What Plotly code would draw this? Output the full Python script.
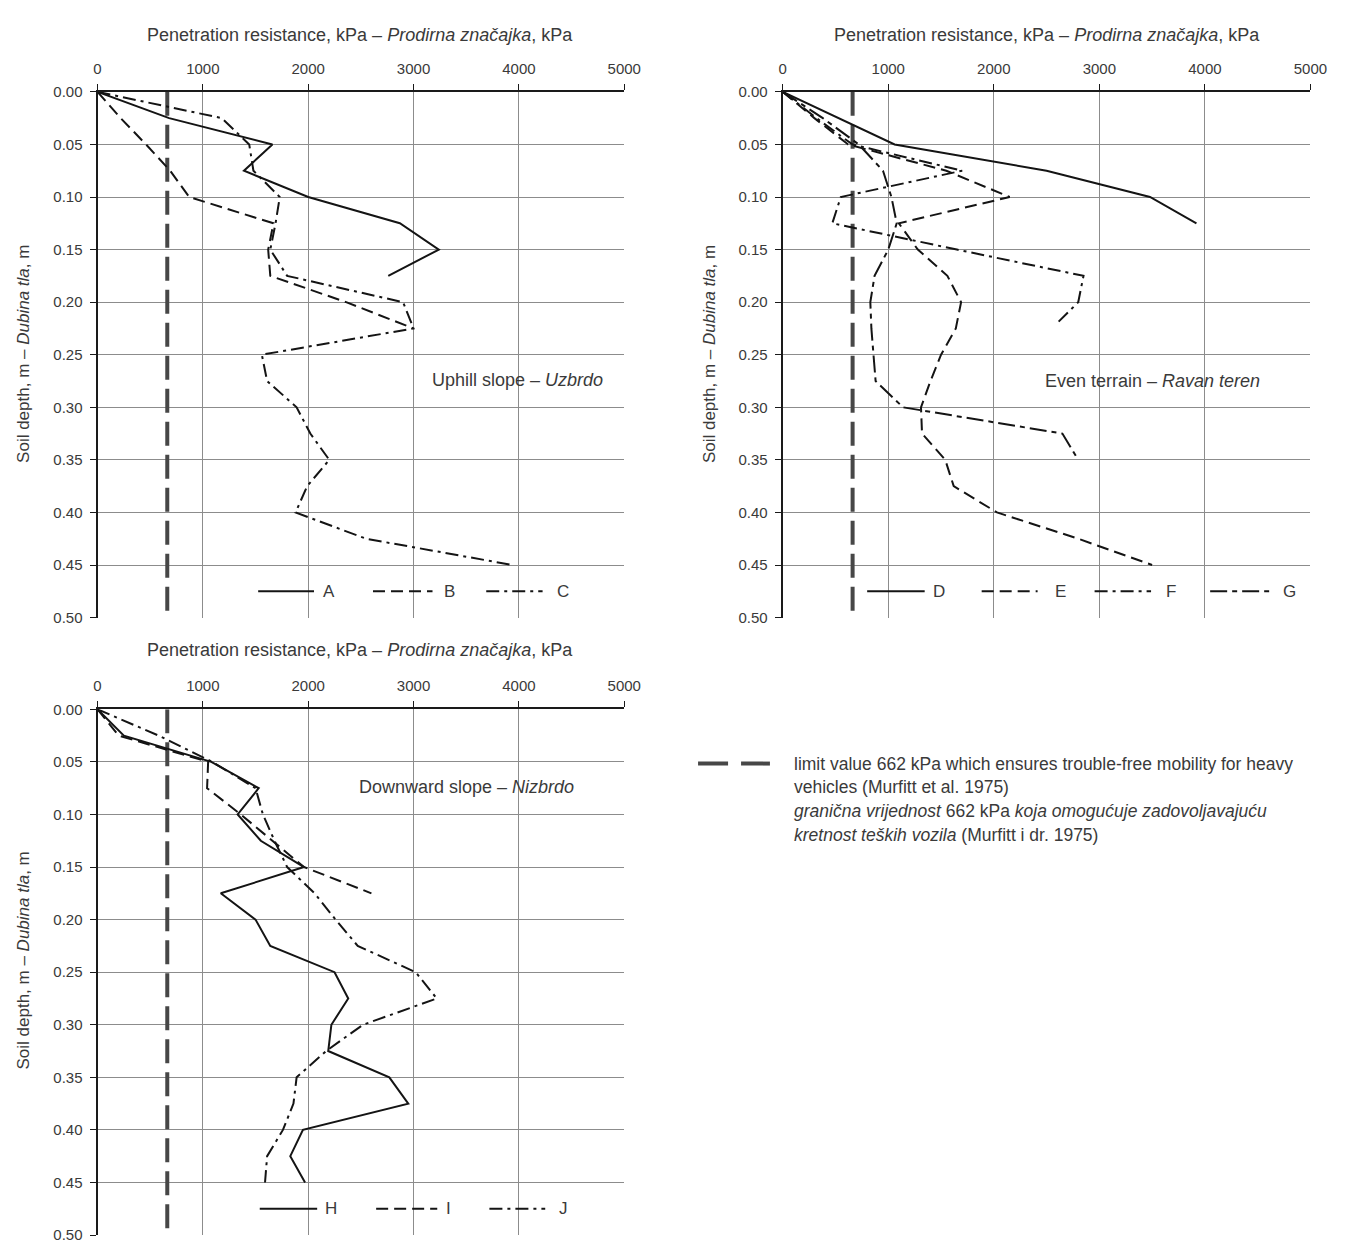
import plotly.graph_objects as go

# ---------------------------------------------------------------------------
# Penetration resistance (kPa) versus soil depth (m)
# ---------------------------------------------------------------------------
LIMIT_KPA = 662  # Murfitt et al. (1975) limit value

# Uphill slope – Uzbrdo
DEPTH_A = [0, 0.025, 0.05, 0.075, 0.10, 0.125, 0.15, 0.175]
KPA_A = [0, 680, 1660, 1390, 2000, 2870, 3240, 2760]

DEPTH_B = [0, 0.025, 0.05, 0.075, 0.10, 0.125, 0.15, 0.175, 0.20, 0.225]
KPA_B = [0, 220, 460, 690, 870, 1670, 1620, 1640, 2360, 3000]

DEPTH_C = [0, 0.025, 0.05, 0.075, 0.10, 0.125, 0.15, 0.175, 0.20, 0.225,
           0.25, 0.275, 0.30, 0.325, 0.35, 0.375, 0.40, 0.425, 0.45]
KPA_C = [0, 1180, 1440, 1480, 1730, 1690, 1640, 1800, 2900, 3000,
         1560, 1610, 1890, 2020, 2200, 1990, 1880, 2550, 3940]

# Even terrain – Ravan teren
DEPTH_D = [0, 0.025, 0.05, 0.075, 0.10, 0.125]
KPA_D = [0, 530, 1060, 2500, 3480, 3920]

DEPTH_E = [0, 0.025, 0.05, 0.075, 0.10, 0.125, 0.15, 0.175, 0.20, 0.225,
           0.25, 0.275, 0.30, 0.325, 0.35, 0.375, 0.40, 0.425, 0.45]
KPA_E = [0, 300, 620, 1550, 2150, 1100, 1280, 1560, 1690, 1640,
         1500, 1400, 1310, 1320, 1540, 1620, 2030, 2800, 3500]

DEPTH_F = [0, 0.025, 0.05, 0.075, 0.10, 0.125, 0.15, 0.175, 0.20, 0.22]
KPA_F = [0, 320, 660, 1700, 550, 470, 1650, 2850, 2800, 2600]

DEPTH_G = [0, 0.025, 0.05, 0.075, 0.10, 0.125, 0.15, 0.175, 0.20, 0.225,
           0.25, 0.275, 0.30, 0.325, 0.35]
KPA_G = [0, 380, 720, 950, 1030, 1080, 1000, 870, 830, 840,
         860, 880, 1140, 2650, 2800]

# Downward slope – Nizbrdo
DEPTH_H = [0, 0.025, 0.05, 0.075, 0.10, 0.125, 0.15, 0.175, 0.20, 0.225,
           0.25, 0.275, 0.30, 0.325, 0.35, 0.375, 0.40, 0.425, 0.45]
KPA_H = [0, 250, 1080, 1530, 1330, 1550, 1960, 1170, 1500, 1640,
         2250, 2380, 2220, 2190, 2770, 2950, 1950, 1830, 1970]

DEPTH_I = [0, 0.025, 0.05, 0.075, 0.10, 0.125, 0.15, 0.175]
KPA_I = [0, 200, 1050, 1040, 1360, 1660, 1960, 2600]

DEPTH_J = [0, 0.025, 0.05, 0.075, 0.10, 0.125, 0.15, 0.175, 0.20, 0.225,
           0.25, 0.275, 0.30, 0.325, 0.35, 0.375, 0.40, 0.425, 0.45]
KPA_J = [0, 580, 1090, 1500, 1570, 1680, 1800, 2060, 2260, 2470,
         3020, 3220, 2520, 2170, 1890, 1860, 1760, 1610, 1590]

X_TICKS = [0, 1000, 2000, 3000, 4000, 5000]
Y_TICKS = [0, 0.05, 0.10, 0.15, 0.20, 0.25, 0.30, 0.35, 0.40, 0.45, 0.50]

X_TITLE = "Penetration resistance, kPa – <i>Prodirna značajka</i>, kPa"
Y_TITLE = "Soil depth, m – <i>Dubina tla</i>, m"

# ---------------------------------------------------------------------------
W, H = 1354, 1246
FONT = "Liberation Sans Narrow, Arial Narrow, Liberation Sans, Arial, sans-serif"
TXT = "#3a3a3a"
INK = "#141414"

SOLID = "solid"
DASH = "12px,6px"
DASHDOT = "13px,5px,3px,5px"
LONGSHORT = "17px,5px,5px,5px"
LIMIT_DASH = "24px,9px"


def px_x(p):
    return p / W


def px_y(p):
    return 1 - p / H


# plot-area rectangles in pixels: (left, top, right, bottom)
PANELS = {
    1: (95, 84, 630, 617),
    2: (791, 84, 1327, 617),
    3: (95, 710, 630, 1243),
}

fig = go.Figure()


def add_series(n, depth, kpa, dash):
    xa = "x" if n == 1 else f"x{n}"
    ya = "y" if n == 1 else f"y{n}"
    fig.add_trace(go.Scatter(x=kpa, y=depth, mode="lines", xaxis=xa, yaxis=ya,
                             line=dict(color=INK, width=2, dash=dash),
                             showlegend=False, hoverinfo="x+y"))


for n in PANELS:
    xa = "x" if n == 1 else f"x{n}"
    ya = "y" if n == 1 else f"y{n}"
    fig.add_trace(go.Scatter(x=[LIMIT_KPA, LIMIT_KPA], y=[Y_TICKS[0], Y_TICKS[-1]],
                             mode="lines", xaxis=xa, yaxis=ya,
                             line=dict(color="#474747", width=4, dash=LIMIT_DASH),
                             showlegend=False, hoverinfo="skip"))

add_series(1, DEPTH_A, KPA_A, SOLID)
add_series(1, DEPTH_B, KPA_B, DASH)
add_series(1, DEPTH_C, KPA_C, DASHDOT)
add_series(2, DEPTH_D, KPA_D, SOLID)
add_series(2, DEPTH_E, KPA_E, DASH)
add_series(2, DEPTH_F, KPA_F, DASHDOT)
add_series(2, DEPTH_G, KPA_G, LONGSHORT)
add_series(3, DEPTH_H, KPA_H, SOLID)
add_series(3, DEPTH_I, KPA_I, DASH)
add_series(3, DEPTH_J, KPA_J, DASHDOT)

layout = dict(
    width=W, height=H,
    margin=dict(l=0, r=0, t=0, b=0),
    paper_bgcolor="white", plot_bgcolor="white",
    font=dict(family=FONT, size=16, color=TXT),
    showlegend=False,
)

for n, (l, t, r, b) in PANELS.items():
    xk = "xaxis" if n == 1 else f"xaxis{n}"
    yk = "yaxis" if n == 1 else f"yaxis{n}"
    ya = "y" if n == 1 else f"y{n}"
    xa = "x" if n == 1 else f"x{n}"
    layout[xk] = dict(
        domain=[px_x(l), px_x(r)], anchor=ya, side="top",
        range=[0, 5000], tickvals=X_TICKS, ticktext=[str(v) for v in X_TICKS],
        showgrid=True, gridcolor="#8c8c8c", gridwidth=1,
        showline=True, linecolor="#1a1a1a", linewidth=2,
        ticks="outside", ticklen=6, tickcolor="#1a1a1a", tickwidth=1,
        ticklabelstandoff=4,
        tickfont=dict(size=15, color=TXT), zeroline=False, fixedrange=True,
    )
    layout[yk] = dict(
        domain=[px_y(b), px_y(t)], anchor=xa,
        range=[0.5, 0], tickvals=Y_TICKS, tickformat=".2f",
        showgrid=True, gridcolor="#8c8c8c", gridwidth=1,
        showline=True, linecolor="#1a1a1a", linewidth=2,
        ticks="outside", ticklen=6, tickcolor="#1a1a1a", tickwidth=1,
        ticklabelstandoff=4,
        tickfont=dict(size=15, color=TXT), zeroline=False, fixedrange=True,
    )

annotations = []
shapes = []

# axis titles
for cx, cy in [(362, 26), (1059, 26), (362, 650)]:
    annotations.append(dict(x=px_x(cx), y=px_y(cy), xref="paper", yref="paper",
                            text=X_TITLE, showarrow=False, xanchor="center",
                            yanchor="middle", font=dict(size=18, color=TXT)))
for cx, cy in [(20, 350), (716, 350), (20, 965)]:
    annotations.append(dict(x=px_x(cx), y=px_y(cy), xref="paper", yref="paper",
                            text=Y_TITLE, showarrow=False, textangle=-90,
                            xanchor="center", yanchor="middle",
                            font=dict(size=17, color=TXT)))

# panel captions
for text, cx, cy in [("Uphill slope – <i>Uzbrdo</i>", 522, 376),
                     ("Even terrain – <i>Ravan teren</i>", 1167, 377),
                     ("Downward slope – <i>Nizbrdo</i>", 470, 789)]:
    annotations.append(dict(x=px_x(cx), y=px_y(cy), xref="paper", yref="paper",
                            text=text, showarrow=False, xanchor="center",
                            yanchor="middle", font=dict(size=18, color=TXT)))

# in-panel keys: (panel, label, dash, line x0, line x1, label x)
KEYS = [
    (1, "A", SOLID, 0.305, 0.411, 0.440),
    (1, "B", DASH, 0.523, 0.636, 0.669),
    (1, "C", DASHDOT, 0.738, 0.845, 0.884),
    (2, "D", SOLID, 0.160, 0.269, 0.297),
    (2, "E", DASH, 0.377, 0.483, 0.526),
    (2, "F", DASHDOT, 0.591, 0.698, 0.735),
    (2, "G", LONGSHORT, 0.810, 0.922, 0.961),
    (3, "H", SOLID, 0.308, 0.417, 0.443),
    (3, "I", DASH, 0.529, 0.645, 0.667),
    (3, "J", DASHDOT, 0.744, 0.850, 0.884),
]
KEY_Y = 0.05
for n, label, dash, x0, x1, xl in KEYS:
    xr = "x domain" if n == 1 else f"x{n} domain"
    yr = "y domain" if n == 1 else f"y{n} domain"
    shapes.append(dict(type="line", xref=xr, yref=yr, x0=x0, x1=x1,
                       y0=KEY_Y, y1=KEY_Y,
                       line=dict(color=INK, width=2, dash=dash)))
    annotations.append(dict(xref=xr, yref=yr, x=xl, y=KEY_Y, text=label,
                            showarrow=False, xanchor="center", yanchor="middle",
                            font=dict(size=17, color=TXT)))

# limit-value key
shapes.append(dict(type="line", xref="paper", yref="paper",
                   x0=px_x(705), x1=px_x(778), y0=px_y(765), y1=px_y(765),
                   line=dict(color="#474747", width=4, dash="30px,13px")))
NOTE_LINES = [
    "limit value 662 kPa which ensures trouble-free mobility for heavy",
    "vehicles (Murfitt et al. 1975)",
    "<i>granična vrijednost</i> 662 kPa <i>koja omogućuje zadovoljavajuću</i>",
    "<i>kretnost teških vozila</i> (Murfitt i dr. 1975)",
]
for i, line in enumerate(NOTE_LINES):
    annotations.append(dict(x=px_x(800), y=px_y(765 + 24 * i), xref="paper",
                            yref="paper", text=line, showarrow=False,
                            xanchor="left", yanchor="middle", align="left",
                            font=dict(size=17.5, color=TXT)))

layout["annotations"] = annotations
layout["shapes"] = shapes
fig.update_layout(**layout)

fig.write_html("out.html")
